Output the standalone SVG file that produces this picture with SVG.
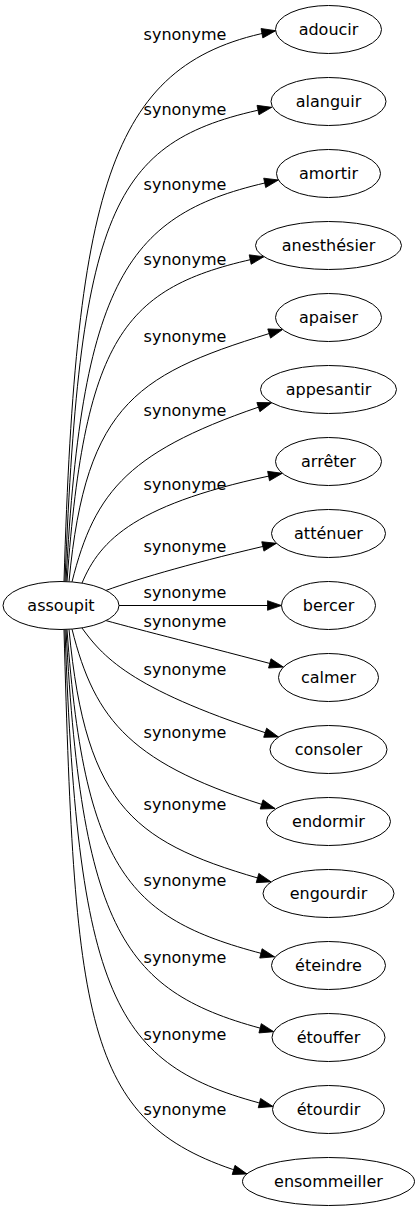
<svg xmlns="http://www.w3.org/2000/svg" width="419" height="1211" viewBox="0 0 419 1211">
<style>
text{font-family:"DejaVu Sans","Liberation Sans",sans-serif;font-size:16px;fill:#000;text-anchor:middle}
.node ellipse{fill:#fff;stroke:#000;stroke-width:1}
.edges path{fill:none;stroke:#000;stroke-width:1;marker-end:url(#arr)}
</style>
<defs>
<marker id="arr" markerUnits="userSpaceOnUse" markerWidth="14" markerHeight="10" viewBox="0 0 14 10" refX="14" refY="5" orient="auto" overflow="visible"><path d="M0,0.2 L14,5 L0,9.8 Z" fill="#000" stroke="#000" stroke-width="0.8"/></marker>
</defs>
<g id="connectors" class="edges">
<path d="M64,581.5 C76,180 112,61 275.7,30.7"/>
<path d="M65,581.6 C80,200 115,139 271.7,107.3"/>
<path d="M66,581.6 C82,270 131.5,210.8 278.4,180"/>
<path d="M67,581.6 C85,330 127,285.4 263.9,256.7"/>
<path d="M69,581.7 C86,400 139,372.6 282.6,329.5"/>
<path d="M72,581.9 C95,490 129,449.7 271.7,402.7"/>
<path d="M82,583.1 C100,540 135.3,502.7 282.3,473.3"/>
<path d="M106,590.4 C140,578 198.5,561.2 276.5,543.3"/>
<path d="M119,605.5 L281.5,605.5"/>
<path d="M106,620.6 C140,630 206,646.5 283.3,667"/>
<path d="M82,628 C105,660 135.7,691.3 278.5,737"/>
<path d="M72,629.1 C95,721 131,765 275,808.5"/>
<path d="M69,629.3 C86,811 136,844 271,881.8"/>
<path d="M67,629.4 C85,881 134,921.6 274.5,956.8"/>
<path d="M66,629.4 C82,941 128,995 273.7,1031.7"/>
<path d="M65,629.4 C78,1010 117.8,1067.6 273,1106.5"/>
<path d="M64,629.5 C75,1031 85,1125 247,1174"/>
<g id="edge-labels">
<text x="185" y="40">synonyme</text>
<text x="185" y="115">synonyme</text>
<text x="185" y="190">synonyme</text>
<text x="185" y="265">synonyme</text>
<text x="185" y="342">synonyme</text>
<text x="185" y="416">synonyme</text>
<text x="185" y="490">synonyme</text>
<text x="185" y="552">synonyme</text>
<text x="185" y="598">synonyme</text>
<text x="185" y="626.5">synonyme</text>
<text x="185" y="675">synonyme</text>
<text x="185" y="738">synonyme</text>
<text x="185" y="810">synonyme</text>
<text x="185" y="886">synonyme</text>
<text x="185" y="963">synonyme</text>
<text x="185" y="1040">synonyme</text>
<text x="185" y="1114.5">synonyme</text>
</g>
</g>
<g id="assoupit" class="node"><ellipse cx="61" cy="605.5" rx="58" ry="24"/><text x="61" y="610.5">assoupit</text></g>
<g id="adoucir" class="node"><ellipse cx="328.5" cy="29.5" rx="53" ry="24"/><text x="328.5" y="34.5">adoucir</text></g>
<g id="alanguir" class="node"><ellipse cx="328.5" cy="101.5" rx="57.5" ry="24"/><text x="328.5" y="106.5">alanguir</text></g>
<g id="amortir" class="node"><ellipse cx="328.5" cy="173.5" rx="52" ry="24"/><text x="328.5" y="178.5">amortir</text></g>
<g id="anesthesier" class="node"><ellipse cx="328.5" cy="245.5" rx="73" ry="24"/><text x="328.5" y="250.5">anesthésier</text></g>
<g id="apaiser" class="node"><ellipse cx="328.5" cy="317.5" rx="53" ry="24"/><text x="328.5" y="322.5">apaiser</text></g>
<g id="appesantir" class="node"><ellipse cx="328.5" cy="389.5" rx="68" ry="24"/><text x="328.5" y="394.5">appesantir</text></g>
<g id="arreter" class="node"><ellipse cx="328.5" cy="461.5" rx="53" ry="24"/><text x="328.5" y="466.5">arrêter</text></g>
<g id="attenuer" class="node"><ellipse cx="328.5" cy="533.5" rx="57" ry="24"/><text x="328.5" y="538.5">atténuer</text></g>
<g id="bercer" class="node"><ellipse cx="328.5" cy="605.5" rx="47" ry="24"/><text x="328.5" y="610.5">bercer</text></g>
<g id="calmer" class="node"><ellipse cx="328.5" cy="677.5" rx="50" ry="24"/><text x="328.5" y="682.5">calmer</text></g>
<g id="consoler" class="node"><ellipse cx="328.5" cy="749.5" rx="58.5" ry="24"/><text x="328.5" y="754.5">consoler</text></g>
<g id="endormir" class="node"><ellipse cx="328.5" cy="821.5" rx="62" ry="24"/><text x="328.5" y="826.5">endormir</text></g>
<g id="engourdir" class="node"><ellipse cx="328.5" cy="893.5" rx="65.5" ry="24"/><text x="328.5" y="898.5">engourdir</text></g>
<g id="eteindre" class="node"><ellipse cx="328.5" cy="965.5" rx="57" ry="24"/><text x="328.5" y="970.5">éteindre</text></g>
<g id="etouffer" class="node"><ellipse cx="328.5" cy="1037.5" rx="56.5" ry="24"/><text x="328.5" y="1042.5">étouffer</text></g>
<g id="etourdir" class="node"><ellipse cx="328.5" cy="1109.5" rx="56" ry="24"/><text x="328.5" y="1114.5">étourdir</text></g>
<g id="ensommeiller" class="node"><ellipse cx="328.5" cy="1181.5" rx="86" ry="24"/><text x="328.5" y="1186.5">ensommeiller</text></g>
</svg>
